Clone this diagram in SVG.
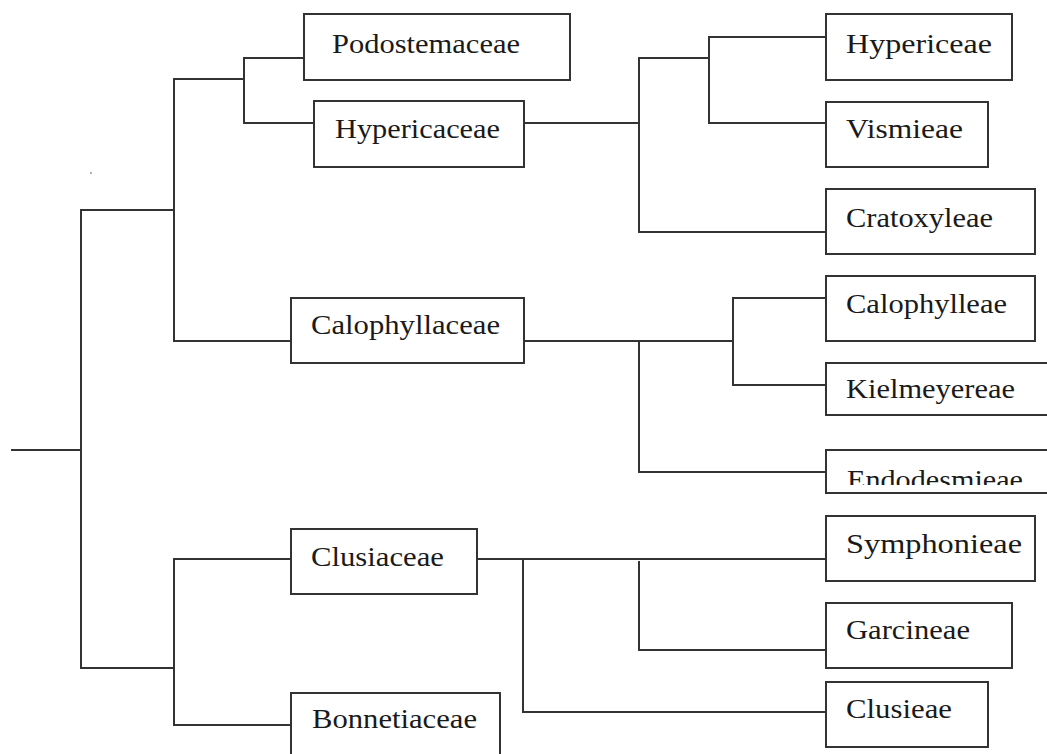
<svg xmlns="http://www.w3.org/2000/svg" width="1047" height="754" viewBox="0 0 1047 754">
<defs>
<style>
.box{fill:#fff;stroke:#333;stroke-width:2}
.lbl{font-family:"Liberation Serif","Times New Roman",serif;font-size:27px;fill:#1a1a1a}
.edge{fill:none;stroke:#333;stroke-width:2;stroke-linecap:square}
</style>
<clipPath id="clipEndo"><rect x="827" y="451" width="230" height="34"/></clipPath>
</defs>
<rect width="1047" height="754" fill="#fff"/>
<g id="connectors">
<path class="edge" d="M12 450 H81 M81 210 V668 M81 210 H174 M174 79 V341 M174 79 H244 M244 58 V123 M244 58 H304 M244 123 H314 M174 341 H291"/>
<path class="edge" d="M524 123 H639 M639 58 V232 M639 58 H709 M709 37 V123 M709 37 H826 M709 123 H826 M639 232 H826"/>
<path class="edge" d="M524 341 H733 M639 341 V472 M733 298 V385 M733 298 H826 M733 385 H826 M639 472 H826"/>
<path class="edge" d="M81 668 H174 M174 559 V725 M174 559 H291 M174 725 H291"/>
<path class="edge" d="M477 559 H826 M523 559 V712 M523 712 H826 M639 562 V650 M639 650 H826"/>
<circle cx="91" cy="173" r="0.9" fill="#888"/>
</g>
<g id="podostemaceae"><rect class="box" x="304" y="14" width="266" height="66"/><text class="lbl" x="332" y="53" textLength="188" lengthAdjust="spacingAndGlyphs">Podostemaceae</text></g>
<g id="hypericaceae"><rect class="box" x="314" y="101" width="210" height="66"/><text class="lbl" x="335" y="138" textLength="165" lengthAdjust="spacingAndGlyphs">Hypericaceae</text></g>
<g id="hypericeae"><rect class="box" x="826" y="14" width="186" height="66"/><text class="lbl" x="846" y="53" textLength="146" lengthAdjust="spacingAndGlyphs">Hypericeae</text></g>
<g id="vismieae"><rect class="box" x="826" y="102" width="162" height="65"/><text class="lbl" x="846" y="138" textLength="117" lengthAdjust="spacingAndGlyphs">Vismieae</text></g>
<g id="cratoxyleae"><rect class="box" x="826" y="189" width="209" height="65"/><text class="lbl" x="846" y="227" textLength="147" lengthAdjust="spacingAndGlyphs">Cratoxyleae</text></g>
<g id="calophyllaceae"><rect class="box" x="291" y="298" width="233" height="65"/><text class="lbl" x="311" y="334" textLength="189" lengthAdjust="spacingAndGlyphs">Calophyllaceae</text></g>
<g id="calophylleae"><rect class="box" x="826" y="276" width="209" height="65"/><text class="lbl" x="846" y="313" textLength="161" lengthAdjust="spacingAndGlyphs">Calophylleae</text></g>
<g id="kielmeyereae"><rect class="box" x="826" y="363" width="230" height="52"/><text class="lbl" x="846" y="398" textLength="169" lengthAdjust="spacingAndGlyphs">Kielmeyereae</text></g>
<g id="endodesmieae"><rect class="box" x="826" y="450" width="230" height="43"/><text class="lbl" x="847" y="489" textLength="176" lengthAdjust="spacingAndGlyphs" clip-path="url(#clipEndo)">Endodesmieae</text></g>
<g id="clusiaceae"><rect class="box" x="291" y="529" width="186" height="65"/><text class="lbl" x="311" y="566" textLength="133" lengthAdjust="spacingAndGlyphs">Clusiaceae</text></g>
<g id="bonnetiaceae"><rect class="box" x="291" y="693" width="209" height="70"/><text class="lbl" x="312" y="728" textLength="165" lengthAdjust="spacingAndGlyphs">Bonnetiaceae</text></g>
<g id="symphonieae"><rect class="box" x="826" y="516" width="209" height="65"/><text class="lbl" x="846" y="553" textLength="176" lengthAdjust="spacingAndGlyphs">Symphonieae</text></g>
<g id="garcineae"><rect class="box" x="826" y="603" width="186" height="65"/><text class="lbl" x="846" y="639" textLength="124" lengthAdjust="spacingAndGlyphs">Garcineae</text></g>
<g id="clusieae"><rect class="box" x="826" y="682" width="162" height="65"/><text class="lbl" x="846" y="718" textLength="106" lengthAdjust="spacingAndGlyphs">Clusieae</text></g>
</svg>
